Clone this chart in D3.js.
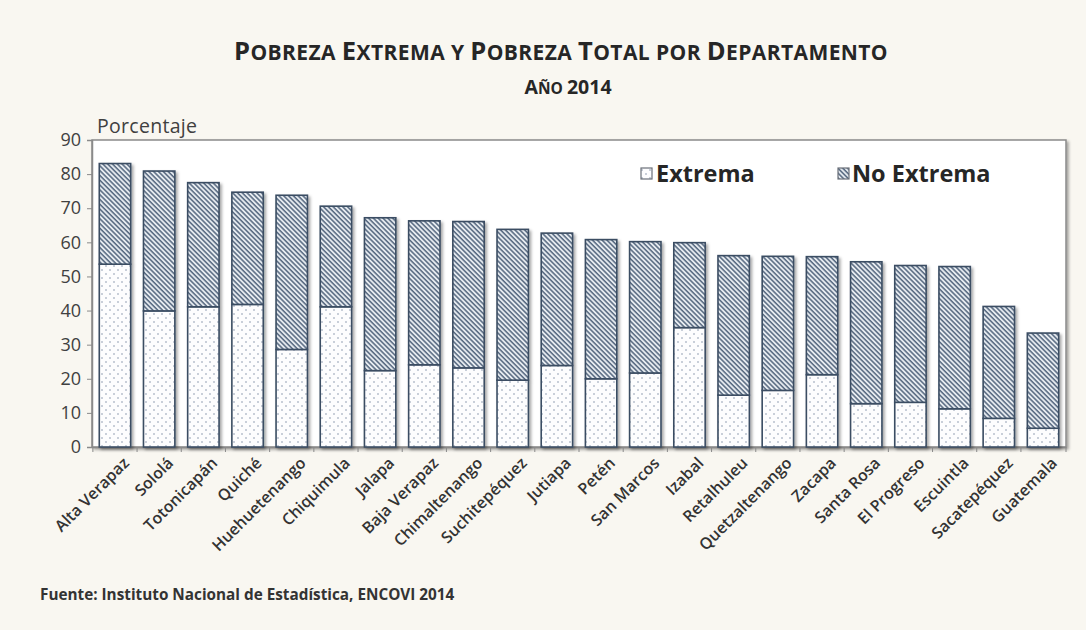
<!DOCTYPE html>
<html>
<head>
<meta charset="utf-8">
<script src="https://cdn.jsdelivr.net/npm/d3@7"></script>
<style>
  body{margin:0;background:#f9f7f1;}
  svg{display:block;font-family:"Open Sans",sans-serif;}
</style>
</head>
<body>
<svg class="chart"></svg>
<script>
// valores (porcentaje)
var departamentos = ["Alta Verapaz","Sololá","Totonicapán","Quiché","Huehuetenango","Chiquimula","Jalapa","Baja Verapaz","Chimaltenango","Suchitepéquez","Jutiapa","Petén","San Marcos","Izabal","Retalhuleu","Quetzaltenango","Zacapa","Santa Rosa","El Progreso","Escuintla","Sacatepéquez","Guatemala"];
var extrema   = [53.6,39.9,41.1,41.8,28.6,41.1,22.4,24.1,23.2,19.6,23.9,20.0,21.7,35.0,15.2,16.6,21.2,12.7,13.1,11.2,8.4,5.5];
var noExtrema = [29.5,41.0,36.4,32.9,45.2,29.5,44.8,42.2,42.9,44.2,38.8,40.8,38.5,24.9,40.9,39.3,34.6,41.6,40.1,41.7,32.8,27.9];
var series = ["Extrema","No Extrema"];
var yTicks = [0,10,20,30,40,50,60,70,80,90];

var Chart = (function(){

  var that = {},
    svg,
    defs,
    xScale,
    yScale,
    width = 1086,
    height = 630,
    plot = {left: 92, right: 1066, top: 140, bottom: 447},
    ink = "#3b4d63";

  function initialize(){
    svg = d3.select(".chart")
            .attr("width", width)
            .attr("height", height);

    makeDefs();
    makeTitles();
    makeScales();
    makeFrame();
    makeAxis();
    makeBars();
    makeLegend();
  }

  // patrones de puntos y rayas, y la sombra de las barras
  function makeDefs(){
    defs = svg.append("defs");

    var dots = defs.append("pattern")
                   .attr("id", "dots")
                   .attr("patternUnits", "userSpaceOnUse")
                   .attr("width", 8)
                   .attr("height", 8);
    dots.append("rect").attr("width", 8).attr("height", 8).attr("fill", "#fdfdfe");
    dots.append("circle").attr("cx", 2).attr("cy", 2).attr("r", 0.8).attr("fill", "#8796aa");
    dots.append("circle").attr("cx", 6).attr("cy", 6).attr("r", 0.8).attr("fill", "#8796aa");

    var hatch = defs.append("pattern")
                    .attr("id", "hatch")
                    .attr("patternUnits", "userSpaceOnUse")
                    .attr("width", 3.4)
                    .attr("height", 6)
                    .attr("patternTransform", "rotate(-45)");
    hatch.append("rect").attr("width", 3.4).attr("height", 6).attr("fill", "#eef2f6");
    hatch.append("line")
         .attr("x1", 1).attr("y1", 0).attr("x2", 1).attr("y2", 6)
         .attr("stroke", "#55677f")
         .attr("stroke-width", 1.6);

    var shadow = defs.append("filter")
                     .attr("id", "shadow")
                     .attr("x", "-20%").attr("y", "-5%")
                     .attr("width", "150%").attr("height", "115%");
    shadow.append("feDropShadow")
          .attr("dx", 2).attr("dy", 2)
          .attr("stdDeviation", 1.5)
          .attr("flood-color", "#000")
          .attr("flood-opacity", 0.35);
  }

  // versalitas hechas a mano: mayusculas grandes, resto en mayusculas chicas
  function smallCaps(sel, str, big, small){
    str.split("").forEach(function(ch){
      var isBig = ch !== ch.toLowerCase() || /[0-9]/.test(ch);
      sel.append("tspan")
         .attr("font-size", isBig ? big : small)
         .text(ch.toUpperCase());
    });
  }

  function makeTitles(){
    var title = svg.append("text")
                   .attr("x", 561)
                   .attr("y", 60)
                   .attr("text-anchor", "middle")
                   .attr("font-weight", 700)
                   .attr("letter-spacing", 0.4)
                   .attr("fill", "#262626");
    smallCaps(title, "Pobreza Extrema y Pobreza Total por Departamento", 25.5, 21);

    var sub = svg.append("text")
                 .attr("x", 568)
                 .attr("y", 94)
                 .attr("text-anchor", "middle")
                 .attr("font-weight", 700)
                 .attr("fill", "#262626");
    smallCaps(sub, "Año 2014", 19.5, 15.5);

    svg.append("text")
       .attr("x", 97)
       .attr("y", 133)
       .attr("font-size", 19.5)
       .attr("letter-spacing", 0.3)
       .attr("fill", "#404040")
       .text("Porcentaje");

    svg.append("text")
       .attr("x", 40)
       .attr("y", 600)
       .attr("font-size", 15.3)
       .attr("font-weight", 700)
       .attr("fill", "#333")
       .text("Fuente: Instituto Nacional de Estadística, ENCOVI 2014");
  }

  function makeScales(){
    xScale = d3.scaleBand()
               .domain(departamentos)
               .range([plot.left, plot.right])
               .paddingInner(0.29)
               .paddingOuter(0.165);
    yScale = d3.scaleLinear()
               .domain([0, 90])
               .range([plot.bottom, plot.top]);
  }

  function makeFrame(){
    svg.append("rect")
       .attr("x", plot.left)
       .attr("y", plot.top)
       .attr("width", plot.right - plot.left)
       .attr("height", plot.bottom - plot.top)
       .attr("fill", "#fff")
       .attr("stroke", "#8a8a8a")
       .attr("stroke-width", 1.5)
       .attr("filter", "url(#shadow)");
  }

  function makeAxis(){
    var yAxis = svg.append("g")
                   .attr("transform", "translate(" + plot.left + ",0)")
                   .call(d3.axisLeft(yScale).tickValues(yTicks).tickSize(5).tickPadding(6));
    yAxis.select(".domain").attr("stroke", "#8a8a8a").attr("stroke-width", 1.5);
    yAxis.selectAll(".tick line").attr("stroke", "#8a8a8a");
    yAxis.selectAll(".tick text")
         .attr("font-size", 18)
         .attr("font-family", "Open Sans, sans-serif")
         .attr("fill", "#404040");

    var xAxis = svg.append("g")
                   .attr("transform", "translate(0," + plot.bottom + ")")
                   .call(d3.axisBottom(xScale).tickSize(0));
    xAxis.select(".domain").attr("stroke", "#8a8a8a").attr("stroke-width", 1.5);
    xAxis.selectAll(".tick text")
         .attr("font-size", 16)
         .attr("font-weight", 600)
         .attr("font-family", "Open Sans, sans-serif")
         .attr("fill", "#333")
         .attr("text-anchor", "end")
         .attr("dy", 0)
         .attr("transform", "translate(13,15) rotate(-45)");

    // marcas entre categorias
    var gap = xScale.step() * xScale.paddingInner() / 2;
    svg.append("g")
       .selectAll("line")
       .data(departamentos.concat(["fin"]))
       .enter().append("line")
       .attr("x1", function(d, i){ return i < departamentos.length ? xScale(d) - gap : plot.right; })
       .attr("x2", function(d, i){ return i < departamentos.length ? xScale(d) - gap : plot.right; })
       .attr("y1", plot.bottom)
       .attr("y2", plot.bottom + 5)
       .attr("stroke", "#8a8a8a");
  }

  function makeBars(){
    var table = departamentos.map(function(d, i){
      return {dep: d, "Extrema": extrema[i], "No Extrema": noExtrema[i]};
    });
    var stacked = d3.stack().keys(series)(table);
    var fills = {"Extrema": "url(#dots)", "No Extrema": "url(#hatch)"};

    var groups = svg.append("g")
                    .attr("filter", "url(#shadow)")
                    .selectAll("g")
                    .data(stacked)
                    .enter().append("g")
                    .attr("fill", function(d){ return fills[d.key]; });

    groups.selectAll("rect")
          .data(function(d){ return d; })
          .enter().append("rect")
          .attr("x", function(d){ return xScale(d.data.dep); })
          .attr("y", function(d){ return yScale(d[1]); })
          .attr("width", xScale.bandwidth())
          .attr("height", function(d){ return yScale(d[0]) - yScale(d[1]); })
          .attr("stroke", ink)
          .attr("stroke-width", 1.6);
  }

  function makeLegend(){
    var pos = [{x: 641, tx: 656}, {x: 838, tx: 852}],
      fills = ["url(#dots)", "url(#hatch)"];

    var items = svg.append("g")
                   .selectAll("g")
                   .data(series)
                   .enter().append("g");

    items.append("rect")
         .attr("x", function(d, i){ return pos[i].x; })
         .attr("y", 168)
         .attr("width", 11)
         .attr("height", 11)
         .attr("fill", function(d, i){ return fills[i]; })
         .attr("stroke", "#6a6f78")
         .attr("stroke-width", 1.2);

    items.append("text")
         .attr("x", function(d, i){ return pos[i].tx; })
         .attr("y", 182)
         .attr("font-size", 23.5)
         .attr("font-weight", 700)
         .attr("fill", "#262626")
         .text(function(d){ return d; });
  }

  that.init = initialize;
  return that;

})();

Chart.init();
</script>
</body>
</html>
